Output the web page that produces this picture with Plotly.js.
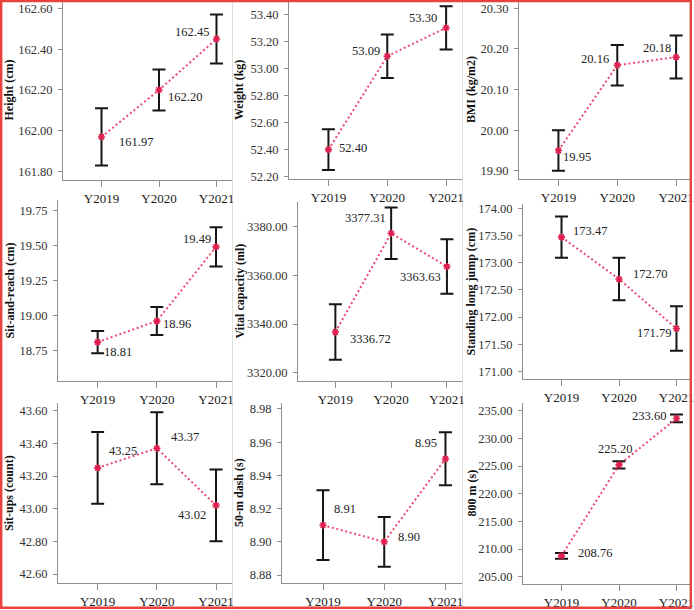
<!DOCTYPE html>
<html>
<head>
<meta charset="utf-8">
<script src="https://cdn.plot.ly/plotly-3.0.1.min.js"></script>
<style>
  html, body { margin: 0; padding: 0; background: #fff; }
  #chart { width: 694px; height: 610px; }
</style>
</head>
<body>
<div id="chart"></div>
<script>
// Survey years
const years = ['Y2019', 'Y2020', 'Y2021'];

// Means and error-bar half-widths for each fitness indicator
const heightCm = [161.97, 162.20, 162.45];
const heightErr = [0.14, 0.10, 0.12];

const weightKg = [52.40, 53.09, 53.30];
const weightErr = [0.15, 0.16, 0.16];

const bmi = [19.95, 20.16, 20.18];
const bmiErr = [0.05, 0.05, 0.053];

const sitReachCm = [18.81, 18.96, 19.49];
const sitReachErr = [0.08, 0.10, 0.14];

const vitalCapacityMl = [3336.72, 3377.31, 3363.63];
const vitalCapacityErr = [11.4, 10.6, 11.2];

const longJumpCm = [173.47, 172.70, 171.79];
const longJumpErr = [0.38, 0.39, 0.41];

const sitUps = [43.25, 43.37, 43.02];
const sitUpsErr = [0.22, 0.22, 0.22];

const dash50s = [8.91, 8.90, 8.95];
const dash50Err = [0.021, 0.015, 0.016];

const run800s = [208.76, 225.20, 233.60];
const run800Err = [0.5, 0.65, 0.7];

// Panel layout (pixel boxes: left, right, top, bottom) and label placement
const W = 694, H = 610;
const panels = [
  { title: 'Height (cm)', mean: heightCm, err: heightErr, box: [63, 232, 1, 180], yr: [161.759, 162.636], dtick: 0.2, titleX: 9,
    lab: [['left', 15, 5], ['left', 7, 7], ['right', -5, -7]] },
  { title: 'Weight (kg)', mean: weightKg, err: weightErr, box: [289, 462, 1, 179], yr: [52.183, 53.498], dtick: 0.2, titleX: 239,
    lab: [['left', 9, -2], ['right', -5, -5], ['right', -7, -10]] },
  { title: 'BMI (kg/m2)', mean: bmi, err: bmiErr, box: [519, 692, 1, 179], yr: [19.880, 20.318], dtick: 0.1, titleX: 471,
    lab: [['left', 3, 6], ['right', -6, -6], ['right', -3, -9]] },
  { title: 'Sit-and-reach (cm)', mean: sitReachCm, err: sitReachErr, box: [58, 232, 200, 381], yr: [18.532, 19.825], dtick: 0.25, titleX: 9,
    lab: [['left', 4, 10], ['left', 4, 3], ['right', -3, -8]] },
  { title: 'Vital capacity (ml)', mean: vitalCapacityMl, err: vitalCapacityErr, box: [298, 462, 202, 381], yr: [3316.6, 3390.15], dtick: 20, titleX: 239,
    lab: [['left', 13, 7], ['right', -3, -15], ['right', -4, 10]] },
  { title: 'Standing long jump (cm)', mean: longJumpCm, err: longJumpErr, box: [523, 692, 204, 379], yr: [170.862, 174.079], dtick: 0.5, titleX: 470,
    lab: [['left', 9, -6], ['left', 12, -5], ['right', -3, 4]] },
  { title: 'Sit-ups (count)', mean: sitUps, err: sitUpsErr, box: [58, 232, 403, 583], yr: [42.545, 43.647], dtick: 0.2, titleX: 9,
    lab: [['left', 9, -17], ['left', 12, -11], ['right', -8, 10]] },
  { title: '50-m dash (s)', mean: dash50s, err: dash50Err, box: [282, 462, 403, 583], yr: [8.8752, 8.9836], dtick: 0.02, titleX: 239,
    lab: [['left', 9, -16], ['left', 12, -5], ['right', -6, -16]] },
  { title: '800 m (s)', mean: run800s, err: run800Err, box: [523, 692, 403, 584], yr: [203.68, 236.39], dtick: 5, titleX: 471,
    lab: [['left', 14, -3], ['center', -4, -16], ['right', -8, -2]] }
];

const serif = "'Liberation Serif', 'Times New Roman', serif";
const axisGrey = '#8f8f8f';
const lineRed = '#ec4a70';
const markRed = '#e01e4f';

const traces = [];
const annotations = [];
const layout = {
  width: W, height: H,
  margin: { l: 0, r: 0, t: 0, b: 0 },
  paper_bgcolor: '#fff', plot_bgcolor: '#fff',
  showlegend: false,
  font: { family: serif, size: 12, color: '#333' },
  annotations: annotations,
  shapes: []
};

panels.forEach((p, i) => {
  const n = i === 0 ? '' : String(i + 1);
  const xa = 'x' + n, ya = 'y' + n;
  const [l, r, t, b] = p.box;

  layout['xaxis' + n] = {
    domain: [l / W, r / W],
    anchor: ya,
    type: 'category',
    categoryorder: 'array', categoryarray: years,
    range: [-0.67, 2.27],
    showgrid: false, zeroline: false,
    showline: true, linecolor: axisGrey, linewidth: 1,
    ticks: 'outside', ticklen: 6, tickcolor: axisGrey, tickwidth: 1,
    tickfont: { family: serif, size: 13, color: '#222' },
    fixedrange: true
  };
  layout['yaxis' + n] = {
    domain: [1 - b / H, 1 - t / H],
    anchor: xa,
    range: p.yr,
    tick0: 0, dtick: p.dtick, tickformat: '.2f',
    showgrid: false, zeroline: false,
    showline: true, linecolor: axisGrey, linewidth: 1,
    ticks: 'outside', ticklen: 4, tickcolor: axisGrey, tickwidth: 1,
    ticklabelstandoff: 3,
    tickfont: { family: serif, size: 12.5, color: '#333' },
    fixedrange: true
  };

  // Error bars (drawn underneath the connecting line)
  traces.push({
    x: years, y: p.mean, xaxis: xa, yaxis: ya,
    type: 'scatter', mode: 'markers',
    marker: { size: 1, opacity: 0 },
    error_y: { type: 'data', array: p.err, visible: true, color: '#151515', thickness: 2, width: 6.5 },
    hoverinfo: 'skip'
  });
  // Dotted trend line with mean markers
  traces.push({
    x: years, y: p.mean, xaxis: xa, yaxis: ya,
    type: 'scatter', mode: 'lines+markers',
    line: { color: lineRed, width: 2, dash: '2px,2.6px' },
    marker: { symbol: 'asterisk-open', size: 6, line: { color: markRed, width: 1.6 }, color: markRed }
  });

  // Value labels beside each mean
  p.mean.forEach((v, k) => {
    const [anchor, dx, dy] = p.lab[k];
    annotations.push({
      xref: xa, yref: ya, x: years[k], y: v,
      text: v.toFixed(2), showarrow: false,
      xanchor: anchor, yanchor: 'middle',
      xshift: dx, yshift: -dy,
      font: { family: serif, size: 12.5, color: '#222' }
    });
  });

  // Rotated y-axis title
  annotations.push({
    xref: 'paper', yref: 'paper',
    x: p.titleX / W, y: 1 - ((t + b) / 2) / H,
    text: '<b>' + p.title + '</b>', textangle: -90, showarrow: false,
    xanchor: 'center', yanchor: 'middle',
    font: { family: serif, size: 12, color: '#111' }
  });
});

// Faint dividers between panel columns
[232.5, 462.5].forEach(px => {
  layout.shapes.push({
    type: 'line', xref: 'paper', yref: 'paper',
    x0: px / W, x1: px / W, y0: 0, y1: 1,
    line: { color: '#dedede', width: 1 }, layer: 'below'
  });
});
// Red frame around the whole figure
layout.shapes.push({
  type: 'rect', xref: 'paper', yref: 'paper',
  x0: 1.2 / W, x1: 690.8 / W, y0: 1 - 607.8 / H, y1: 1 - 1.1 / H,
  line: { color: '#e8423f', width: 2.4 }, fillcolor: 'rgba(0,0,0,0)'
});

Plotly.newPlot('chart', traces, layout, { displayModeBar: false, staticPlot: true });
</script>
</body>
</html>
